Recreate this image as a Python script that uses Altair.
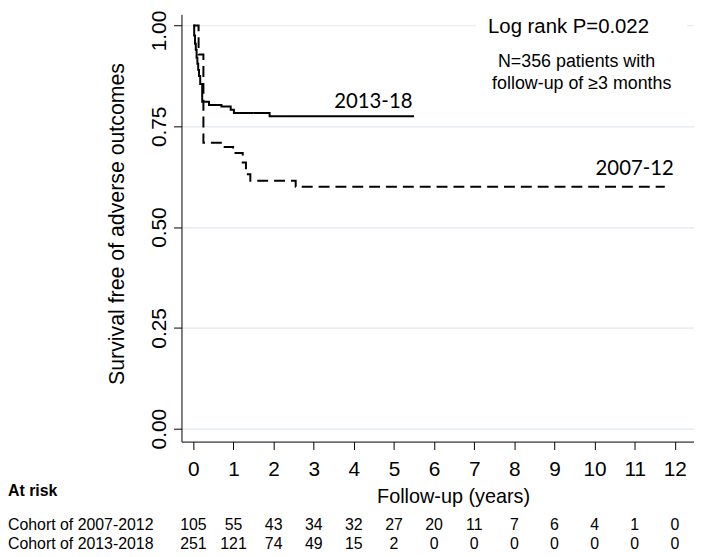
import altair as alt
import pandas as pd

# ---- Kaplan-Meier step data ----
t_2013 = [0, 0.02, 0.04, 0.06, 0.08, 0.10, 0.12, 0.14, 0.17, 0.22, 0.39, 0.70, 0.93, 1.01, 1.90, 5.50]
s_2013 = [1.0, 0.975, 0.955, 0.94, 0.92, 0.905, 0.89, 0.875, 0.855, 0.811, 0.803, 0.799, 0.791, 0.783, 0.775, 0.775]
t_2007 = [0, 0.13, 0.25, 0.78, 0.99, 1.23, 1.31, 1.42, 2.55, 11.75]
s_2007 = [1.0, 0.928, 0.709, 0.699, 0.684, 0.660, 0.631, 0.615, 0.600, 0.600]

# ---- numbers at risk ----
years = list(range(13))
risk_2007 = [105, 55, 43, 34, 32, 27, 20, 11, 7, 6, 4, 1, 0]
risk_2013 = [251, 121, 74, 49, 15, 2, 0, 0, 0, 0, 0, 0, 0]
row_labels = ["Cohort of 2007-2012", "Cohort of 2013-2018"]

# ---- texts ----
series_labels = ["2013-18", "2007-12"]
series_label_t = [4.485, 11.0]
series_label_s = [0.811, 0.643]
logrank_text = "Log rank P=0.022"
note_lines = ["N=356 patients with", "follow-up of \u22653 months"]

FONT = "Liberation Sans, Arial, sans-serif"

curves = pd.DataFrame(
    {"t": t_2013 + t_2007,
     "s": s_2013 + s_2007,
     "cohort": ["2013-18"] * len(t_2013) + ["2007-12"] * len(t_2007)}
)

xs = alt.Scale(domain=[-0.2965, 12.478], nice=False, zero=False)
ys = alt.Scale(domain=[-0.032, 1.0278], nice=False, zero=False)

x_axis = alt.Axis(
    values=years, grid=False, tickSize=8, tickColor="black", domainColor="black",
    labelFont=FONT, labelFontSize=21, labelPadding=9, labelColor="black",
    title="Follow-up (years)", titleFont=FONT, titleFontSize=20, titleFontWeight="normal",
    titleColor="black", titleX=274, titleY=55, titleBaseline="middle",
)
y_axis = alt.Axis(
    values=[0, 0.25, 0.5, 0.75, 1.0], format=".2f", grid=True, gridColor="#e1e9f0",
    gridWidth=1.2, tickSize=8, tickColor="black", domainColor="black",
    labelFont=FONT, labelFontSize=21, labelAngle=270, labelAlign="center",
    labelBaseline="alphabetic", labelPadding=8, labelColor="black",
    labelOffset={"condition": {"test": "datum.value == 1", "value": 5}, "value": 0},
    title="Survival free of adverse outcomes", titleFont=FONT, titleFontSize=21.5,
    titleFontWeight="normal", titleColor="black", titleX=-64, titleY=211,
    titleBaseline="middle",
)

X = alt.X("t:Q", scale=xs, axis=x_axis)
Y = alt.Y("s:Q", scale=ys, axis=y_axis)

lines = alt.Chart(curves).mark_line(interpolate="step-after", color="black", strokeWidth=2).encode(
    x=X, y=Y,
    strokeDash=alt.StrokeDash("cohort:N", scale=alt.Scale(domain=["2013-18", "2007-12"],
                                                          range=[[1, 0], [11, 6]]), legend=None),
    detail="cohort:N",
)

# white box behind the log-rank text (hides the gridline there)
box = alt.Chart(pd.DataFrame({"t": [7.04], "t2": [12.3], "s": [0.975], "s2": [1.02]})).mark_rect(
    color="white").encode(x=X, x2="t2:Q", y=Y, y2="s2:Q")

lab_df = pd.DataFrame({"t": series_label_t, "s": series_label_s, "txt": series_labels})
series_text = alt.Chart(lab_df).mark_text(font="Lato, Liberation Sans, sans-serif", fontSize=20.5,
                                          color="black", align="center", baseline="middle").encode(
    x=X, y=Y, text="txt:N")

logrank = alt.Chart(pd.DataFrame({"t": [9.35], "s": [0.996], "txt": [logrank_text]})).mark_text(
    font=FONT, fontSize=20.5, color="black", align="center", baseline="middle").encode(
    x=X, y=Y, text="txt:N")

note = alt.Chart(pd.DataFrame({"t": [9.55, 9.68], "s": [0.910, 0.856], "txt": note_lines})).mark_text(
    font=FONT, fontSize=18, color="black", align="center", baseline="middle").encode(
    x=X, y=Y, text="txt:N")

km = alt.layer(box, lines, series_text, logrank, note)

# ---- at-risk table ----
risk_df = pd.DataFrame({
    "t": years + years,
    "row": [row_labels[0]] * 13 + [row_labels[1]] * 13,
    "n": risk_2007 + risk_2013,
})
row_scale = alt.Scale(domain=row_labels, range=[515, 534.5], padding=0)

numbers = alt.Chart(risk_df).mark_text(font=FONT, fontSize=16, color="black",
                                       align="center", baseline="middle").encode(
    x=X, y=alt.Y("row:N", scale=row_scale, axis=None), text="n:Q")

rows = alt.Chart(pd.DataFrame({"row": row_labels})).mark_text(
    font=FONT, fontSize=16, color="black", align="left", baseline="middle").encode(
    x=alt.value(-175), y=alt.Y("row:N", scale=row_scale, axis=None), text="row:N")

at_risk = alt.Chart(pd.DataFrame({"txt": ["At risk"]})).mark_text(
    font=FONT, fontSize=16, fontWeight="bold", color="black", align="left", baseline="middle").encode(
    x=alt.value(-175), y=alt.value(481), text="txt:N")

table = alt.layer(numbers, rows, at_risk)

chart = alt.layer(km, table).resolve_scale(y="independent").properties(
    width=517, height=431,
    autosize=alt.AutoSizeParams(type="none"),
    padding={"left": 175, "top": 4, "right": 0, "bottom": 110},
    background="white",
).configure_view(stroke=None)

chart.save("out.html", embed_options={"renderer": "svg", "actions": False})
